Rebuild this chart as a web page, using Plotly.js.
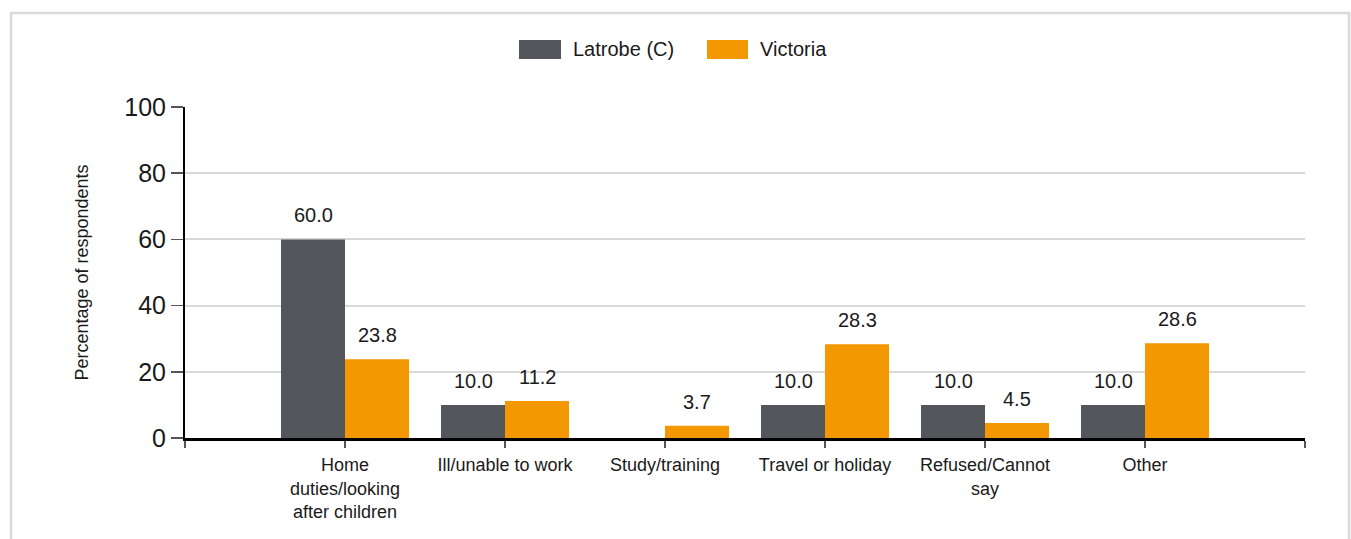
<!DOCTYPE html>
<html>
<head>
<meta charset="utf-8">
<script src="https://cdn.plot.ly/plotly-3.0.1.min.js"></script>
<style>
  html, body { margin: 0; padding: 0; background: #ffffff; }
  #chart { width: 1351px; height: 539px; }
</style>
</head>
<body>
<div id="chart"></div>
<script>
// ---- data ----
const categories = ["Home<br>duties/looking<br>after children", "Ill/unable to work", "Study/training", "Travel or holiday", "Refused/Cannot<br>say", "Other"];
const seriesNames = ["Latrobe (C)", "Victoria"];
const latrobe = [60.0, 10.0, null, 10.0, 10.0, 10.0];
const victoria = [23.8, 11.2, 3.7, 28.3, 4.5, 28.6];
const yTicks = [0, 20, 40, 60, 80, 100];

// ---- styling ----
const colors = ["#53565A", "#F39800"];
const W = 1351, H = 539;
const M = { l: 185, r: 46, t: 107, b: 101 };
const PW = W - M.l - M.r, PH = H - M.t - M.b;
const px = x => (x - M.l) / PW;          // pixel x -> paper x
const py = y => (H - M.b - y) / PH;      // pixel y -> paper y
const FONT = "Liberation Sans, Arial, sans-serif";

const xpos = categories.map((_, i) => i + 1);
const tickvals = [0].concat(xpos, [categories.length + 1]);
const ticktext = [""].concat(categories, [""]);

const traces = [latrobe, victoria].map((vals, k) => ({
  type: "bar",
  name: seriesNames[k],
  x: xpos,
  y: vals,
  marker: { color: colors[k], line: { width: 0 } },
  hoverinfo: "skip",
  showlegend: false
}));

const annotations = [];
[latrobe, victoria].forEach((vals, k) => {
  vals.forEach((v, i) => {
    if (v === null) return;
    annotations.push({
      x: xpos[i] + (k === 0 ? -0.2 : 0.2), y: v, xref: "x", yref: "y",
      text: v.toFixed(1), showarrow: false, yanchor: "bottom", yshift: 11,
      font: { family: FONT, size: 20, color: "#1a1a1a" }
    });
  });
});

// legend (manual)
const legendBoxes = [[519, 561], [707, 748]];
const legendTextX = [571, 758];
const shapes = [];
seriesNames.forEach((n, k) => {
  shapes.push({ type: "rect", xref: "paper", yref: "paper",
    x0: px(legendBoxes[k][0]), x1: px(legendBoxes[k][1]), y0: py(59), y1: py(40),
    fillcolor: colors[k], line: { width: 0 } });
  annotations.push({ xref: "paper", yref: "paper", x: px(legendTextX[k]), y: py(49.5),
    xanchor: "left", yanchor: "middle", showarrow: false, text: n,
    font: { family: FONT, size: 20, color: "#1a1a1a" } });
});
// outer frame (open at bottom)
shapes.push({ type: "path", xref: "paper", yref: "paper",
  path: `M ${px(11)} ${py(560)} L ${px(11)} ${py(13)} L ${px(1349)} ${py(13)} L ${px(1349)} ${py(560)}`,
  line: { color: "#d9d9d9", width: 2.5 } });

const layout = {
  width: W, height: H,
  margin: M,
  paper_bgcolor: "#ffffff", plot_bgcolor: "#ffffff",
  barmode: "group", bargap: 0.2, bargroupgap: 0,
  font: { family: FONT, color: "#1a1a1a" },
  xaxis: {
    type: "linear", range: [0, categories.length + 1],
    tickmode: "array", tickvals: tickvals, ticktext: ticktext,
    ticks: "outside", ticklen: 7, tickwidth: 1.5, tickcolor: "#555555",
    ticklabelstandoff: 2,
    showline: true, linecolor: "#000000", linewidth: 2.5,
    showgrid: false, zeroline: false,
    tickfont: { family: FONT, size: 18, color: "#1a1a1a" },
    fixedrange: true
  },
  yaxis: {
    range: [0, 100], tickmode: "array", tickvals: yTicks,
    ticks: "outside", ticklen: 12, tickwidth: 1.5, tickcolor: "#555555",
    showline: true, linecolor: "#000000", linewidth: 2,
    showgrid: true, gridcolor: "#d9d9d9", gridwidth: 2,
    zeroline: false,
    tickfont: { family: FONT, size: 25, color: "#1a1a1a" },
    title: { text: "Percentage of respondents", standoff: 31,
      font: { family: FONT, size: 18, color: "#1a1a1a" } },
    fixedrange: true
  },
  shapes: shapes,
  annotations: annotations,
  showlegend: false
};

Plotly.newPlot("chart", traces, layout, { displayModeBar: false, staticPlot: true });
</script>
</body>
</html>
